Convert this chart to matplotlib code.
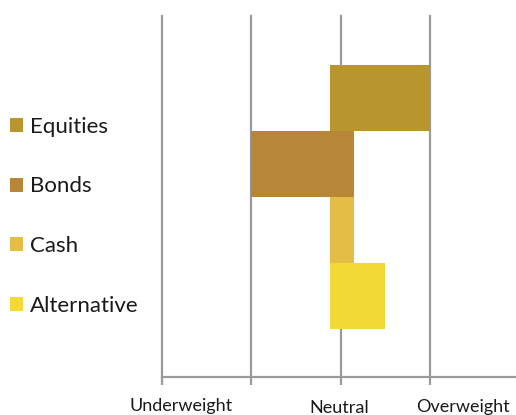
import matplotlib
matplotlib.use("Agg")
import matplotlib.pyplot as plt
from matplotlib.patches import Patch
import matplotlib.transforms as mtransforms

plt.rcParams['font.family'] = ['Lato', 'DejaVu Sans']

categories = ["Equities", "Bonds", "Cash", "Alternative"]
bar_start = [1.88, 1.0, 1.88, 1.88]
bar_end = [3.0, 2.15, 2.15, 2.5]
colors = ["#B9952D", "#B88637", "#E3BD46", "#F2D936"]

scale_labels = ["Underweight", "Neutral", "Overweight"]
scale_label_x = [0.21, 1.98, 3.37]
scale_label_dy = [0, -2, -1]

GRID = "#9a9a9a"

fig = plt.figure(figsize=(5.16, 4.15), dpi=100)
ax = fig.add_axes([0.314, 0.0916, 0.684, 0.8695])

widths = [e - s for s, e in zip(bar_start, bar_end)]
ax.barh(range(len(categories)), widths, left=bar_start, height=1.0,
        color=colors, zorder=3)

for gx in range(4):
    ax.axvline(gx, color=GRID, lw=1.6, zorder=1, clip_on=False)

ax.set_xlim(0, 3.95)
ax.set_ylim(4.23, -1.24)
for side in ["left", "right", "top"]:
    ax.spines[side].set_visible(False)
ax.spines["bottom"].set_color(GRID)
ax.spines["bottom"].set_linewidth(1.6)
ax.set_yticks([])
ax.set_xticks(range(4))
ax.set_xticklabels([])
ax.tick_params(axis="x", length=6, width=1.6, color=GRID)

trans = mtransforms.blended_transform_factory(ax.transData, ax.transAxes)
for lab, lx, dy in zip(scale_labels, scale_label_x, scale_label_dy):
    ax.text(lx, -0.08 + dy / 361, lab, transform=trans, ha="center",
            va="center", fontsize=13, color="#1a1a1a")

handles = [Patch(facecolor=c, edgecolor="none") for c in colors]
leg = fig.legend(handles, categories, loc="upper left", bbox_to_anchor=(0.004, 0.737),
                 frameon=False, fontsize=16, handlelength=0.6, handleheight=0.6,
                 handletextpad=0.3, labelspacing=1.78, borderaxespad=0.0,
                 borderpad=0.35)
for t in leg.get_texts():
    t.set_color("#1a1a1a")

plt.savefig("out.png", dpi=100)
